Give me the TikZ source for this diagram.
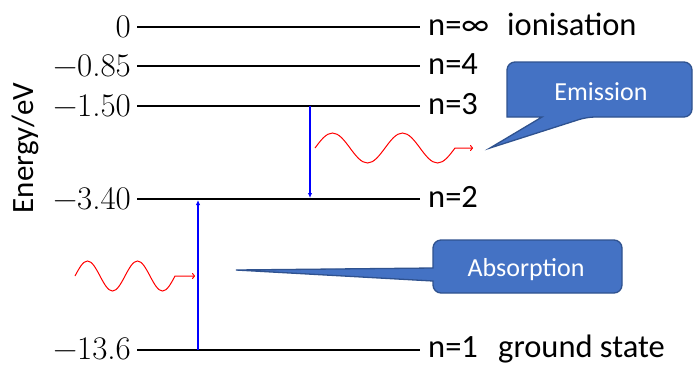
\documentclass[tikz,border=0pt]{standalone}
\usepackage{fontspec}
\newfontfamily\calfont{Carlito}
\usetikzlibrary{arrows.meta}
\definecolor{calloutfill}{HTML}{4472C4}
\definecolor{calloutdraw}{HTML}{2F528F}
\begin{document}
\begin{tikzpicture}[x=1pt,y=-1pt,
  level/.style={line width=1.4pt,black},
  numlab/.style={anchor=base east,inner sep=0pt,font=\fontsize{33}{38}\selectfont},
  nlab/.style={anchor=base west,inner sep=0pt,font=\calfont\fontsize{32.5}{38}\selectfont},
  trans/.style={line width=1.1pt,blue,-{Latex[length=5pt,width=4.5pt]}},
  photon/.style={line width=1pt,red,-{To[length=3pt,width=6pt]}},
  callout/.style={fill=calloutfill,draw=calloutdraw,line width=1.3pt},
  callouttext/.style={text=white,inner sep=0pt,font=\calfont\fontsize{26}{31}\selectfont}]
\useasboundingbox (0,0) rectangle (695,365);
% level lines
\coordinate (l0a) at (137,27);  \coordinate (l0b) at (420,27);
\coordinate (l4a) at (137,66);  \coordinate (l4b) at (420,66);
\coordinate (l3a) at (137,106); \coordinate (l3b) at (420,106);
\coordinate (l2a) at (137,199); \coordinate (l2b) at (420,199);
\coordinate (l1a) at (137,350); \coordinate (l1b) at (420,350);
\draw[level] (l0a) -- (l0b);
\draw[level] (l4a) -- (l4b);
\draw[level] (l3a) -- (l3b);
\draw[level] (l2a) -- (l2b);
\draw[level] (l1a) -- (l1b);
% energy labels
\node[numlab] (e0) at (131,37.5) {0};
\node[numlab] (e4) at (131,76.5) {−0.85};
\node[numlab] (e3) at (131,116.5) {−1.50};
\node[numlab] (e2) at (131,209.5) {−3.40};
\node[numlab] (e1) at (131,359.5) {−13.6};
% n labels
\node[nlab] (n0) at (428,35) {n=∞};
\node[nlab] (ion) at (507,35) {ionisation};
\node[nlab] (n4) at (428,74) {n=4};
\node[nlab] (n3) at (428,114) {n=3};
\node[nlab] (n2) at (428,207) {n=2};
\node[nlab] (n1) at (428,357.5) {n=1};
\node[nlab] (gs) at (498,357.5) {ground state};
% axis label
\node[rotate=90,anchor=base,inner sep=0pt,font=\calfont\fontsize{31}{37}\selectfont] (axis) at (33,148) {Energy/eV};
% transitions
\coordinate (absA) at (198,350); \coordinate (absB) at (198,200);
\coordinate (emA) at (310,106);  \coordinate (emB) at (310,198);
\draw[trans] (absA) -- (absB);
\draw[trans] (emA) -- (emB);
% photons
\coordinate (pa0) at (75,276); \coordinate (pa1) at (195,276);
\draw[photon] (pa0) sin (87.5,261) cos (100,276) sin (112.5,291) cos (125,276)
  sin (137.5,261) cos (150,276) sin (162.5,291) cos (175,276) -- (pa1);
\coordinate (pe0) at (315,148); \coordinate (pe1) at (473,148);
\draw[photon] (pe0) sin (332.5,133) cos (350,148) sin (367.5,163) cos (385,148)
  sin (402.5,133) cos (420,148) sin (437.5,163) cos (455,148) -- (pe1);
% callouts
\coordinate (emTip) at (490,148);
\path[callout] (emTip) -- (542,117) -- (507,117) [rounded corners=8pt] -- (507,62) -- (692,62) -- (692,117) -- (587,117) [sharp corners] -- cycle;
\node[callouttext] (emtext) at (601,92) {Emission};
\coordinate (abTip) at (236,270);
\path[callout] (abTip) -- (433,268) [rounded corners=8pt] -- (433,240) -- (622,240) -- (622,293) -- (433,293) [sharp corners] -- (433,281) -- cycle;
\node[callouttext] (abtext) at (526,270) {Absorption};
\end{tikzpicture}
\end{document}
